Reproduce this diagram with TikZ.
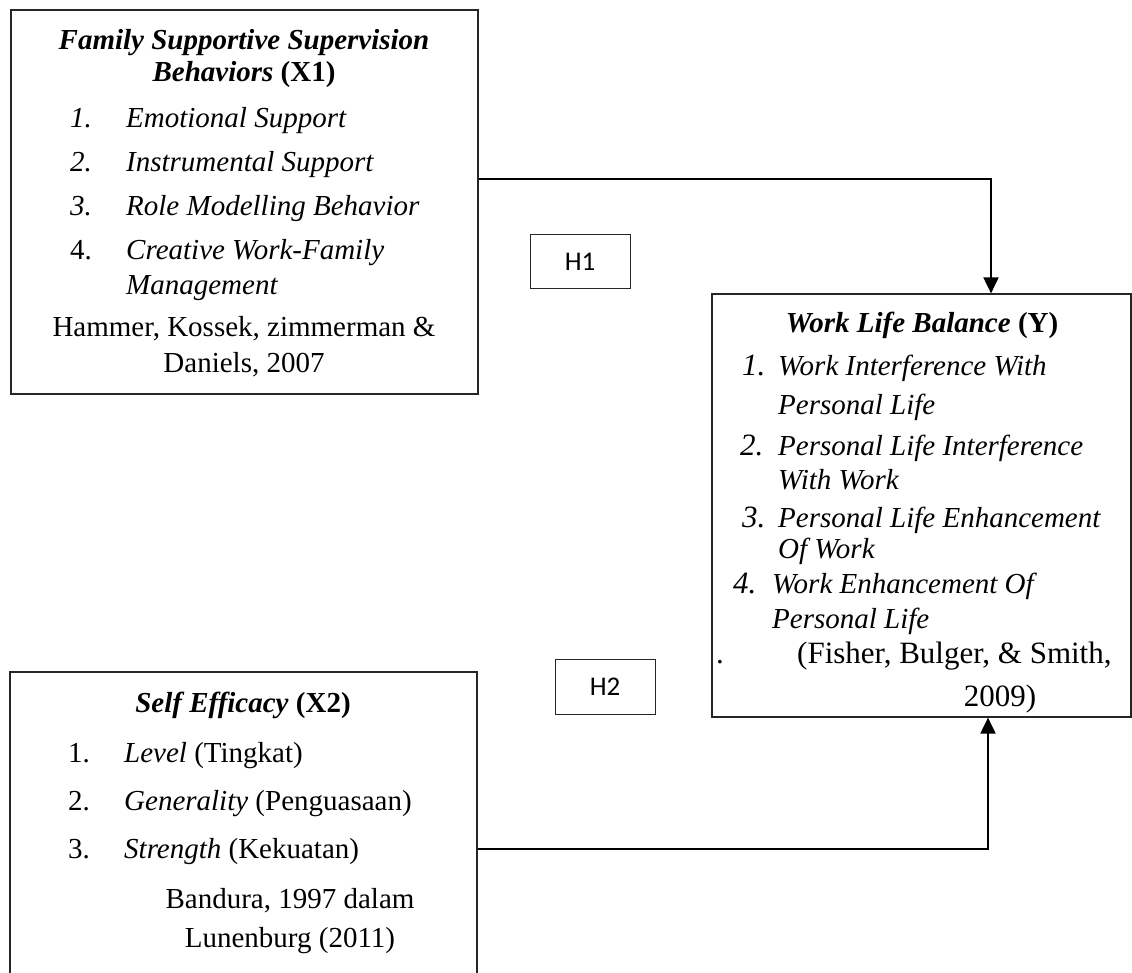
\documentclass[tikz,border=0pt]{standalone}
\usepackage{fontspec}
\setmainfont{Liberation Serif}
\newfontfamily\calib{Carlito}
\usetikzlibrary{arrows.meta}
\tikzset{
  frame/.style={draw=black!85,line width=1.2pt,rectangle,inner sep=0pt},
  hbox/.style={draw=black!85,line width=1pt,rectangle,inner sep=0pt,font=\calib\fontsize{27}{30}\selectfont},
  txt/.style={inner sep=0pt,font=\fontsize{29}{34}\selectfont},
  txtL/.style={txt,anchor=base west},
  txtC/.style={txt,anchor=base},
  big/.style={inner sep=0pt,anchor=base west,font=\fontsize{31}{36}\selectfont},
  arr/.style={line width=2pt,-{Triangle[width=15pt,length=16pt]}}
}
\begin{document}
\begin{tikzpicture}[x=1pt,y=-1pt]
\useasboundingbox (0,0) rectangle (1132,973);
\clip (0,0) rectangle (1132,973);
% boxes
\node[frame,minimum width=467pt,minimum height=384pt] (x1) at (244.5,202) {};
\node[frame,minimum width=419pt,minimum height=423pt] (y) at (921.5,505.5) {};
\node[frame,minimum width=467pt,minimum height=340pt] (x2) at (243.5,842) {};
\node[hbox,minimum width=100pt,minimum height=54pt] (h1) at (580,262) {H1};
\node[hbox,minimum width=100pt,minimum height=55pt] (h2) at (605,687) {H2};
% X1 text
\node[txtC] (x1t1) at (244,50) {\textbf{\textit{Family Supportive Supervision}}};
\node[txtC] (x1t2) at (244,82) {\textbf{\textit{Behaviors} (X1)}};
\node[txtL] (x1n1) at (70,128) {\textit{1.}};
\node[txtL] (x1i1) at (126,128) {\textit{Emotional Support}};
\node[txtL] (x1n2) at (70,172) {\textit{2.}};
\node[txtL] (x1i2) at (126,172) {\textit{Instrumental Support}};
\node[txtL] (x1n3) at (70,216) {\textit{3.}};
\node[txtL] (x1i3) at (126,216) {\textit{Role Modelling Behavior}};
\node[txtL] (x1n4) at (70,260) {4.};
\node[txtL] (x1i4) at (126,260) {\textit{Creative Work-Family}};
\node[txtL] (x1i4b) at (126,295) {\textit{Management}};
\node[txtC] (x1c1) at (244,337) {Hammer, Kossek, zimmerman \&};
\node[txtC] (x1c2) at (244,372) {Daniels, 2007};
% Y text
\node[txtC] (yt) at (922,333) {\textbf{\textit{Work Life Balance} (Y)}};
\node[big] (yn1) at (742,375) {\textit{1.}};
\node[txtL] (yi1) at (778,375) {\textit{Work Interference With}};
\node[txtL] (yi1b) at (778,414) {\textit{Personal Life}};
\node[big] (yn2) at (740,455) {\textit{2.}};
\node[txtL] (yi2) at (778,455) {\textit{Personal Life Interference}};
\node[txtL] (yi2b) at (778,489) {\textit{With Work}};
\node[big] (yn3) at (742,527) {\textit{3.}};
\node[txtL] (yi3) at (778,527) {\textit{Personal Life Enhancement}};
\node[txtL] (yi3b) at (778,558) {\textit{Of Work}};
\node[big] (yn4) at (733,593) {\textit{4.}};
\node[txtL] (yi4) at (772,593) {\textit{Work Enhancement Of}};
\node[txtL] (yi4b) at (772,628) {\textit{Personal Life}};
\node[big] (ydot) at (716,663) {.};
\node[big] (yc1) at (797,663) {(Fisher, Bulger, \& Smith,};
\node[big,anchor=base] (yc2) at (1000,706) {2009)};
% X2 text
\node[txtC] (x2t) at (243,712) {\textbf{\textit{Self Efficacy} (X2)}};
\node[txtL] (x2n1) at (68,762) {1.};
\node[txtL] (x2i1) at (124,762) {\textit{Level} (Tingkat)};
\node[txtL] (x2n2) at (68,810) {2.};
\node[txtL] (x2i2) at (124,810) {\textit{Generality} (Penguasaan)};
\node[txtL] (x2n3) at (68,858) {3.};
\node[txtL] (x2i3) at (124,858) {\textit{Strength} (Kekuatan)};
\node[txtC] (x2c1) at (290,908) {Bandura, 1997 dalam};
\node[txtC] (x2c2) at (290,947) {Lunenburg (2011)};
% connectors
\coordinate (c1) at (991,179);
\coordinate (c2) at (988,849);
\draw[arr] (x1.east |- c1) -- (c1) -- (y.north -| c1);
\draw[arr] (x2.east |- c2) -- (c2) -- (y.south -| c2);
\end{tikzpicture}
\end{document}
